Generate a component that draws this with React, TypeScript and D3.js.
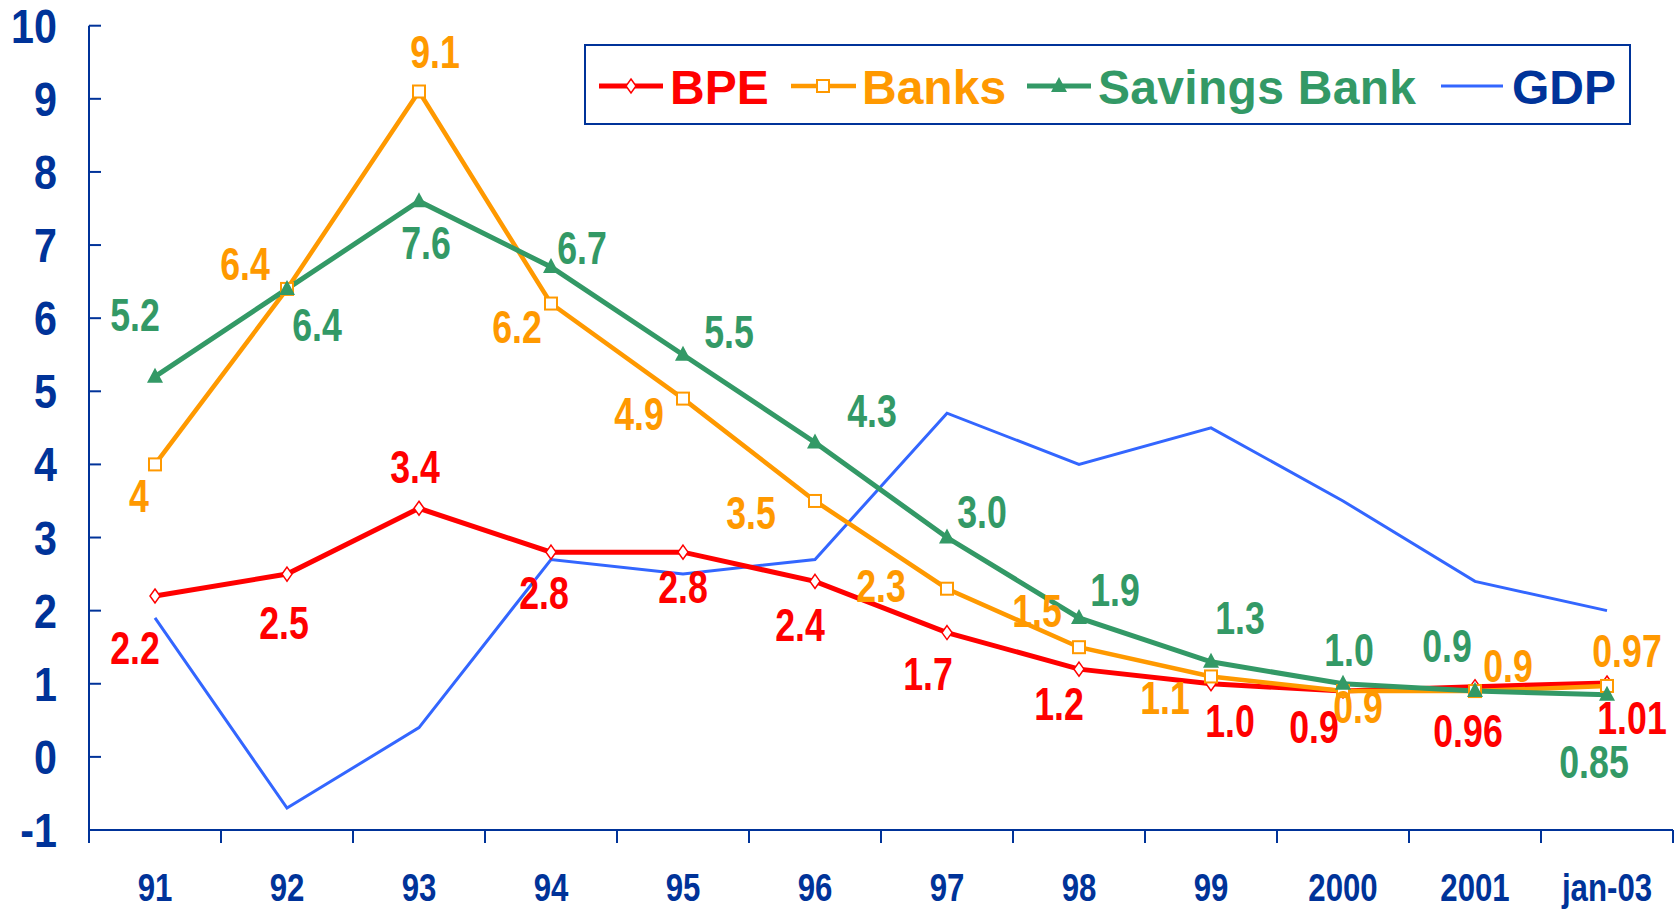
import * as d3 from 'd3';

const categories = ['91', '92', '93', '94', '95', '96', '97', '98', '99', '2000', '2001', 'jan-03'];
const bpe = [2.2, 2.5, 3.4, 2.8, 2.8, 2.4, 1.7, 1.2, 1.0, 0.9, 0.96, 1.01];
const banks = [4, 6.4, 9.1, 6.2, 4.9, 3.5, 2.3, 1.5, 1.1, 0.9, 0.9, 0.97];
const savings = [5.2, 6.4, 7.6, 6.7, 5.5, 4.3, 3.0, 1.9, 1.3, 1.0, 0.9, 0.85];
const gdp = [1.9, -0.7, 0.4, 2.7, 2.5, 2.7, 4.7, 4.0, 4.5, 3.5, 2.4, 2.0];
const bpeLabels = ['2.2', '2.5', '3.4', '2.8', '2.8', '2.4', '1.7', '1.2', '1.0', '0.9', '0.96', '1.01'];
const banksLabels = ['4', '6.4', '9.1', '6.2', '4.9', '3.5', '2.3', '1.5', '1.1', '0.9', '0.9', '0.97'];
const savingsLabels = ['5.2', '6.4', '7.6', '6.7', '5.5', '4.3', '3.0', '1.9', '1.3', '1.0', '0.9', '0.85'];
const yTicks = [-1, 0, 1, 2, 3, 4, 5, 6, 7, 8, 9, 10];

// label offsets from the point (px)
const bpeOff = [[-20, 51], [-3, 48], [-4, -42], [-7, 40], [0, 34], [-15, 43], [-19, 40], [-20, 34], [19, 36], [-29, 35], [-7, 43], [25, 34]];
const banksOff = [[-16, 31], [-42, -26], [16, -41], [-34, 22], [-44, 14], [-64, 11], [-66, -4], [-42, -37], [-46, 21], [15, 15], [33, -26], [20, -36]];
const savingsOff = [[-20, -63], [30, 35], [7, 41], [31, -20], [46, -24], [57, -32], [35, -27], [36, -29], [29, -45], [6, -35], [-28, -46], [-13, 66]];

const W = 1677;
const H = 910;
const AXIS = '#003399';
const RED = '#ff0000';
const ORANGE = '#ff9900';
const GREEN = '#339966';
const BLUE = '#3366ff';
const FONT = "'Liberation Sans', Arial, sans-serif";

const x = d3.scaleBand<string>().domain(categories).range([89, 1673]);
const y = d3.scaleLinear().domain([-1, 10]).range([830, 25.7]);
const cx = (c: string) => (x(c) as number) + x.bandwidth() / 2;

const lineGen = (vals: number[]) =>
  d3.line<number>()
    .x((_, i) => cx(categories[i]))
    .y(d => y(d))(vals) as string;

const diamond = (px: number, py: number) => `M${px},${py - 7}L${px + 5},${py}L${px},${py + 7}L${px - 5},${py}Z`;
const triangle = (px: number, py: number) => `M${px},${py - 9}L${px + 8},${py + 6}L${px - 8},${py + 6}Z`;

// condensed bold text: squeeze horizontally around the anchor
function NText({ x: tx, y: ty, sx, size, fill, anchor = 'middle', children }: any) {
  return (
    <g transform={`translate(${tx},${ty}) scale(${sx},1)`}>
      <text x={0} y={0} textAnchor={anchor} fontFamily={FONT} fontWeight="bold" fontSize={size} fill={fill}>{children}</text>
    </g>
  );
}

function Labels({ vals, labels, off, color }: { vals: number[]; labels: string[]; off: number[][]; color: string }) {
  return (
    <g>
      {vals.map((v, i) => (
        <NText key={i} x={cx(categories[i]) + off[i][0]} y={y(v) + off[i][1] + 17} sx={0.76} size={47} fill={color}>{labels[i]}</NText>
      ))}
    </g>
  );
}

export default function App() {
  const edges = [...categories.map(c => x(c) as number), x.range()[1]];
  return (
    <svg width={W} height={H} style={{ position: 'absolute', left: 0, top: 0, background: '#fff' }}>
      {/* axes */}
      <line x1={89} x2={89} y1={y(10)} y2={843} stroke={AXIS} strokeWidth={2} />
      <line x1={89} x2={x.range()[1]} y1={y(-1)} y2={y(-1)} stroke={AXIS} strokeWidth={2} />
      {yTicks.map(t => (
        <g key={t}>
          <line x1={89} x2={101} y1={y(t)} y2={y(t)} stroke={AXIS} strokeWidth={2} />
          <NText x={57} y={y(t) + 17} sx={0.86} size={48} fill={AXIS} anchor="end">{t}</NText>
        </g>
      ))}
      {edges.map((e, i) => (
        <line key={i} x1={e} x2={e} y1={y(-1)} y2={843} stroke={AXIS} strokeWidth={2} />
      ))}
      {categories.map(c => (
        <NText key={c} x={cx(c)} y={901} sx={0.8} size={39} fill={AXIS}>{c}</NText>
      ))}

      {/* series */}
      <path d={lineGen(gdp)} fill="none" stroke={BLUE} strokeWidth={3} />
      <path d={lineGen(bpe)} fill="none" stroke={RED} strokeWidth={5} />
      <path d={lineGen(banks)} fill="none" stroke={ORANGE} strokeWidth={4.5} />
      <path d={lineGen(savings)} fill="none" stroke={GREEN} strokeWidth={5} />
      {bpe.map((v, i) => (
        <path key={'b' + i} d={diamond(cx(categories[i]), y(v))} fill="#fff" stroke={RED} strokeWidth={1.5} />
      ))}
      {banks.map((v, i) => (
        <rect key={'k' + i} x={cx(categories[i]) - 6} y={y(v) - 6} width={12} height={12} fill="#fff" stroke={ORANGE} strokeWidth={2} />
      ))}
      {savings.map((v, i) => (
        <path key={'s' + i} d={triangle(cx(categories[i]), y(v))} fill={GREEN} />
      ))}

      <Labels vals={bpe} labels={bpeLabels} off={bpeOff} color={RED} />
      <Labels vals={banks} labels={banksLabels} off={banksOff} color={ORANGE} />
      <Labels vals={savings} labels={savingsLabels} off={savingsOff} color={GREEN} />

      {/* legend */}
      <rect x={585} y={45} width={1045} height={79} fill="#fff" stroke={AXIS} strokeWidth={2} />
      <g fontFamily={FONT} fontWeight="bold" fontSize={48}>
        <line x1={599} x2={663} y1={86} y2={86} stroke={RED} strokeWidth={5} />
        <path d={diamond(631, 86)} fill="#fff" stroke={RED} strokeWidth={1.5} />
        <text x={670} y={104} fill={RED}>BPE</text>
        <line x1={791} x2={856} y1={86} y2={86} stroke={ORANGE} strokeWidth={4.5} />
        <rect x={817} y={80} width={12} height={12} fill="#fff" stroke={ORANGE} strokeWidth={2} />
        <text x={862} y={104} fill={ORANGE}>Banks</text>
        <line x1={1027} x2={1091} y1={86} y2={86} stroke={GREEN} strokeWidth={5} />
        <path d={triangle(1059, 86)} fill={GREEN} />
        <text x={1098} y={104} fill={GREEN} textLength={318} lengthAdjust="spacing">Savings Bank</text>
        <line x1={1441} x2={1503} y1={86} y2={86} stroke={BLUE} strokeWidth={3} />
        <text x={1512} y={104} fill={AXIS}>GDP</text>
      </g>
    </svg>
  );
}
